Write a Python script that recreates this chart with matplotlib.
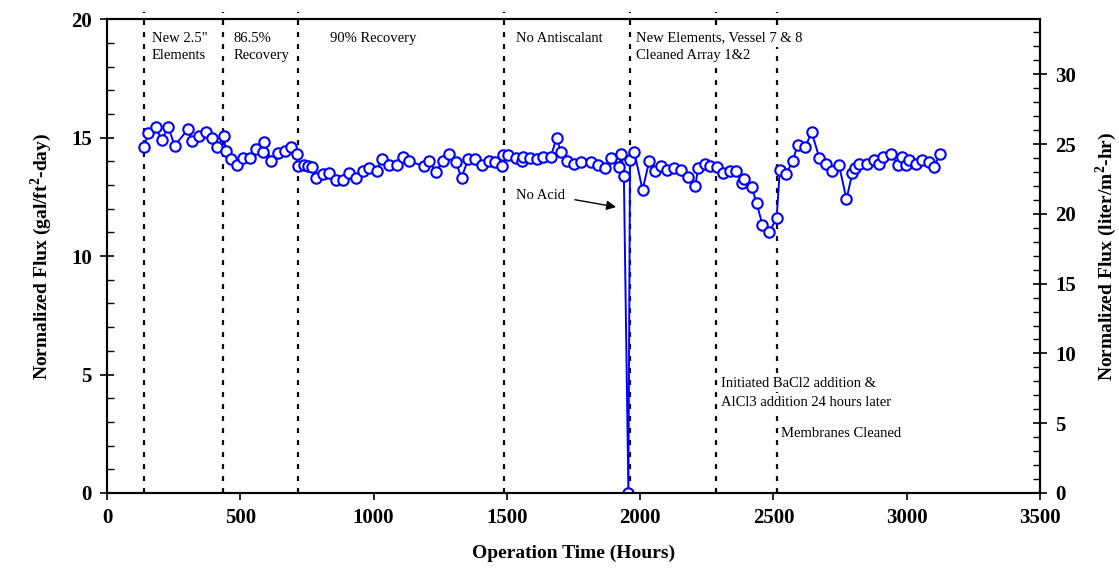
import numpy as np
import matplotlib
matplotlib.use("Agg")
import matplotlib.pyplot as plt
from matplotlib.ticker import MultipleLocator

plt.rcParams['font.family'] = ['Liberation Serif', 'DejaVu Serif']
plt.rcParams['mathtext.fontset'] = 'custom'
plt.rcParams['mathtext.rm'] = 'Liberation Serif:bold'
plt.rcParams['mathtext.bf'] = 'Liberation Serif:bold'

### flux data (hours, gal/ft2-day)
hours = [140, 155, 183, 205, 230, 254, 303, 319, 346, 371, 394, 414, 439, 445,
         464, 486, 510, 536, 560, 586, 589, 616, 640, 668, 690, 711, 717, 738,
         755, 770, 784, 809, 834, 859, 884, 909, 934, 959, 984, 1012, 1031, 1057,
         1087, 1109, 1133, 1190, 1209, 1234, 1259, 1283, 1309, 1330, 1355, 1380,
         1408, 1433, 1455, 1480, 1486, 1503, 1534, 1555, 1561, 1587, 1612, 1636,
         1665, 1687, 1702, 1724, 1752, 1778, 1814, 1841, 1868, 1889, 1920, 1930,
         1939, 1956, 1962, 1978, 2009, 2034, 2055, 2080, 2102, 2127, 2152, 2181,
         2206, 2218, 2243, 2262, 2287, 2312, 2337, 2358, 2384, 2390, 2418, 2437,
         2459, 2484, 2512, 2524, 2547, 2572, 2591, 2620, 2643, 2672, 2697, 2721,
         2746, 2774, 2796, 2806, 2822, 2850, 2877, 2896, 2912, 2940, 2968, 2984,
         2999, 3009, 3033, 3058, 3083, 3103, 3124]
flux = [14.6, 15.2, 15.45, 14.9, 15.45, 14.65, 15.35, 14.85, 15.05, 15.25, 15.0,
        14.6, 15.05, 14.45, 14.1, 13.85, 14.15, 14.15, 14.5, 14.4, 14.8, 14.0,
        14.35, 14.45, 14.6, 14.3, 13.8, 13.85, 13.8, 13.75, 13.3, 13.45, 13.5,
        13.2, 13.2, 13.5, 13.3, 13.6, 13.7, 13.6, 14.1, 13.85, 13.85, 14.2, 14.0,
        13.8, 14.0, 13.55, 14.0, 14.3, 13.95, 13.3, 14.1, 14.1, 13.85, 14.0, 13.95,
        13.8, 14.25, 14.25, 14.15, 14.0, 14.2, 14.15, 14.1, 14.2, 14.2, 15.0, 14.4,
        14.0, 13.9, 13.95, 13.95, 13.85, 13.7, 14.15, 13.75, 14.3, 13.4, 0.0,
        14.05, 14.4, 12.8, 14.0, 13.6, 13.8, 13.65, 13.7, 13.65, 13.35, 12.95,
        13.7, 13.9, 13.8, 13.75, 13.5, 13.6, 13.6, 13.1, 13.25, 12.9, 12.25, 11.3,
        11.0, 11.6, 13.65, 13.45, 14.0, 14.7, 14.6, 15.25, 14.15, 13.9, 13.6,
        13.85, 12.4, 13.5, 13.7, 13.9, 13.9, 14.05, 13.9, 14.2, 14.3, 13.85, 14.2,
        13.85, 14.05, 13.9, 14.05, 13.95, 13.75, 14.3]

### event markers (hours)
events = [140, 435, 718, 1490, 1962, 2285, 2515]

gfd_to_lmh = 1.6976

fig = plt.figure(figsize=(11.19, 5.81), dpi=100)
ax = fig.add_axes([0.0956, 0.1515, 0.8338, 0.8155])

ax.plot(hours, flux, color='#0000ff', lw=1.4, marker='o', ms=7.5,
        mfc='white', mec='#0000ff', mew=1.5, zorder=3)

for ev in events:
    ax.plot([ev, ev], [0, 20.3], color='black', ls=(0, (2.2, 3.2)), lw=1.6,
            clip_on=False, zorder=2)

ax.set_xlim(0, 3500)
ax.set_ylim(0, 20)
ax.xaxis.set_major_locator(MultipleLocator(500))
ax.yaxis.set_major_locator(MultipleLocator(5))
ax.yaxis.set_minor_locator(MultipleLocator(1))
ax.tick_params(axis='y', which='major', direction='inout', length=10, width=1.2,
               labelsize=15, pad=6)
ax.tick_params(axis='y', which='minor', direction='in', length=5, width=1.0)
ax.tick_params(axis='x', which='major', direction='out', length=5, width=1.2,
               labelsize=15, pad=6)
for lab in ax.get_xticklabels() + ax.get_yticklabels():
    lab.set_fontweight('bold')
for sp in ax.spines.values():
    sp.set_linewidth(1.5)

ax.set_xlabel('Operation Time (Hours)', fontsize=14, fontweight='bold', labelpad=12)
ax.set_ylabel('Normalized Flux (gal/ft$^2$-day)', fontsize=14, fontweight='bold',
              labelpad=12)

ax2 = ax.twinx()
ax2.set_ylim(0, 20 * gfd_to_lmh)
ax2.yaxis.set_major_locator(MultipleLocator(5))
ax2.yaxis.set_minor_locator(MultipleLocator(1))
ax2.tick_params(axis='y', which='major', direction='inout', length=10, width=1.2,
                labelsize=15, pad=6)
ax2.tick_params(axis='y', which='minor', direction='in', length=5, width=1.0)
for lab in ax2.get_yticklabels():
    lab.set_fontweight('bold')
for sp in ax2.spines.values():
    sp.set_linewidth(1.5)
ax2.set_ylabel('Normalized Flux (liter/m$^2$-hr)', fontsize=14, fontweight='bold',
               labelpad=12)

fs = 10.5
box = dict(facecolor='white', edgecolor='none', pad=1.5)


def note(x, y, s):
    ax.text(x, y, s, fontsize=fs, va='center', bbox=box, zorder=5)


note(168, 19.2, 'New 2.5"')
note(168, 18.45, 'Elements')
note(475, 19.2, '86.5%')
note(475, 18.45, 'Recovery')
note(835, 19.2, '90% Recovery')
note(1534, 19.2, 'No Antiscalant')
note(1984, 19.2, 'New Elements, Vessel 7 & 8')
note(1984, 18.45, 'Cleaned Array 1&2')
ax.text(1534, 12.57, 'No Acid', fontsize=fs, va='center')
ax.annotate('', xy=(1920, 12.05), xytext=(1745, 12.4),
            arrowprops=dict(arrowstyle='-|>', color='black', lw=1.0,
                            mutation_scale=14))
note(2303, 4.64, 'Initiated BaCl2 addition &')
note(2303, 3.84, 'AlCl3 addition 24 hours later')
note(2528, 2.53, 'Membranes Cleaned')

fig.savefig('out.png', dpi=100)
